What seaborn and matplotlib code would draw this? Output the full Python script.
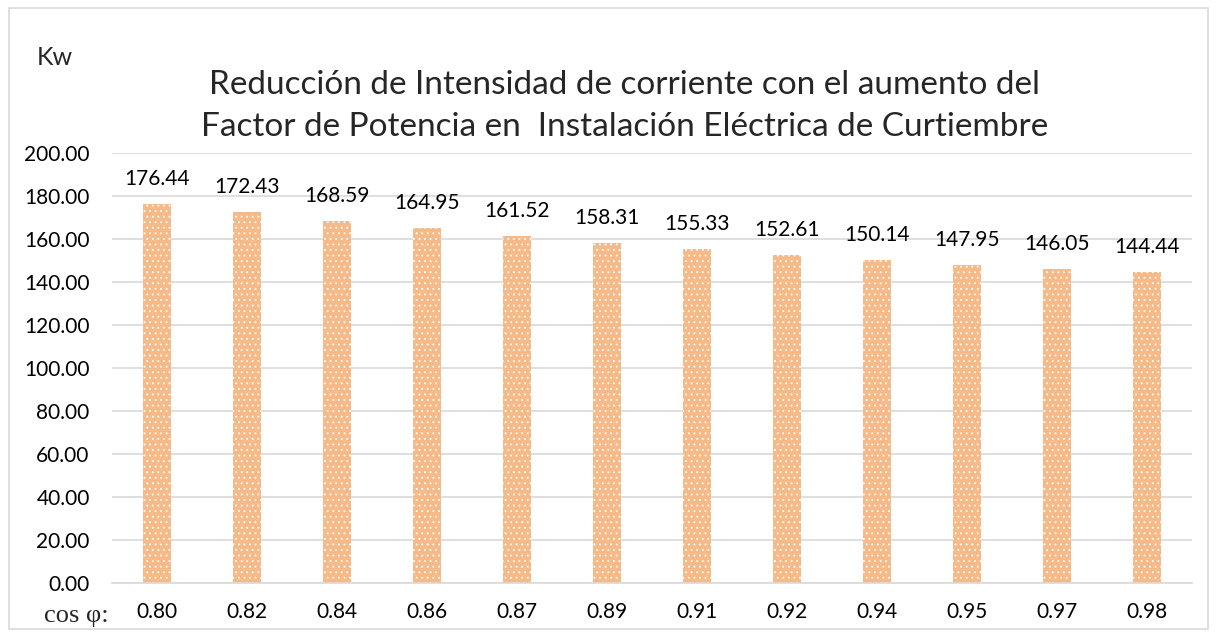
import matplotlib
matplotlib.use("Agg")
import matplotlib.pyplot as plt
import seaborn as sns
import pandas as pd
from matplotlib.patches import Rectangle

# Datos
factor_potencia = ["0.80", "0.82", "0.84", "0.86", "0.87", "0.89",
                   "0.91", "0.92", "0.94", "0.95", "0.97", "0.98"]
potencia_kw = [176.44, 172.43, 168.59, 164.95, 161.52, 158.31,
               155.33, 152.61, 150.14, 147.95, 146.05, 144.44]

titulo = ("Reducción de Intensidad de corriente con el aumento del\n"
          "Factor de Potencia en  Instalación Eléctrica de Curtiembre")

df = pd.DataFrame({"fp": factor_potencia, "kw": potencia_kw})

sns.set_style("white")
plt.rcParams['font.family'] = ['Lato', 'DejaVu Sans']
plt.rcParams['hatch.color'] = 'white'
plt.rcParams['hatch.linewidth'] = 0.6

fig = plt.figure(figsize=(12.17, 6.37), dpi=100)
ax = fig.add_axes([0.092, 0.0848, 0.8874, 0.675])

sns.barplot(data=df, x="fp", y="kw", color="#F6BA88", width=0.31,
            saturation=1, ax=ax)
for barra in ax.patches:
    barra.set_hatch('...')
    barra.set_edgecolor('white')
    barra.set_linewidth(0)

for i, v in enumerate(potencia_kw):
    ax.annotate(f"{v:.2f}", (i, v), xytext=(0, 18), textcoords="offset points",
                ha="center", va="center", fontsize=15, color="#000000")

ax.set_ylim(0, 200)
ax.set_yticks(range(0, 201, 20))
ax.set_yticklabels([f"{t:.2f}" for t in range(0, 201, 20)])
ax.yaxis.grid(True, color="#D9D9D9", linewidth=1.2)
ax.set_axisbelow(True)
for s in ["top", "right", "left"]:
    ax.spines[s].set_visible(False)
ax.spines["bottom"].set_color("#D9D9D9")
ax.spines["bottom"].set_linewidth(1.2)
ax.tick_params(axis="both", length=0, labelsize=15, colors="#000000")
ax.tick_params(axis="x", pad=14)
ax.tick_params(axis="y", pad=16)
ax.set_xlabel("")
ax.set_ylabel("")

fig.text(0.5135, 0.834, titulo, ha="center", va="center", fontsize=24,
         linespacing=1.5)
fig.text(0.045, 0.909, "Kw", ha="center", va="center", fontsize=18)
fig.text(0.063, 0.033, "cos φ:", ha="center", va="center", fontsize=19,
         family=["Liberation Serif", "DejaVu Serif"])

fig.patches.append(Rectangle((0.007, 0.012), 0.986, 0.976,
                             transform=fig.transFigure, fill=False,
                             edgecolor="#D9D9D9", linewidth=1.2))

fig.savefig("out.png", dpi=100)
